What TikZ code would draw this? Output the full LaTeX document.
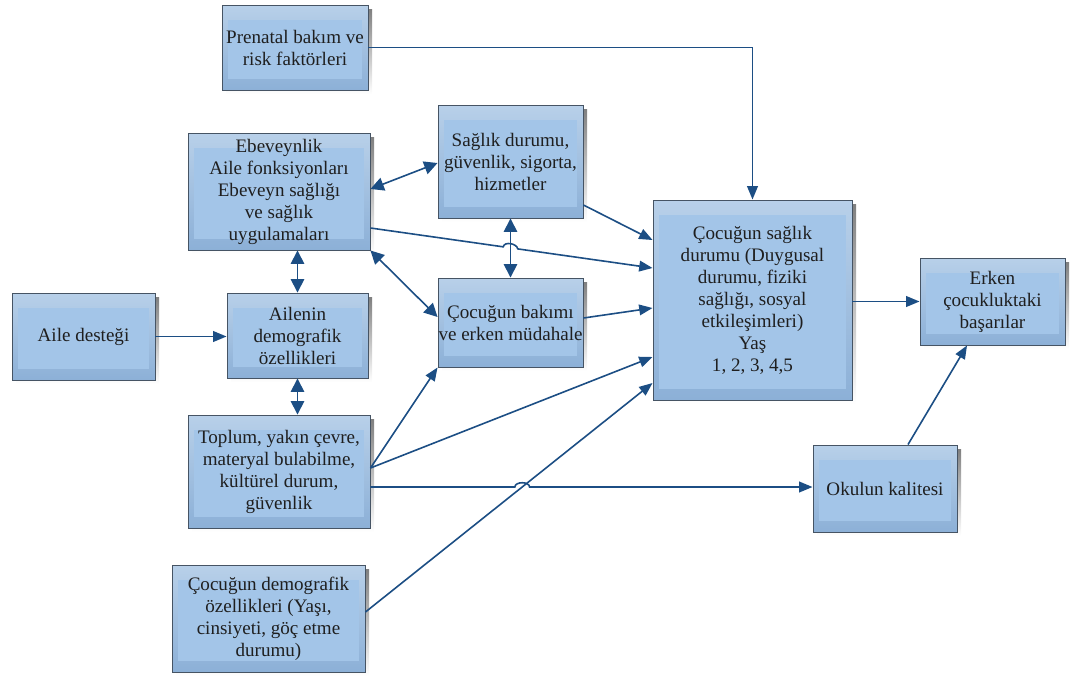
\documentclass[tikz,border=0pt]{standalone}
\usepackage{fontspec}
\setmainfont{Liberation Serif}
\usetikzlibrary{arrows.meta,calc}

\definecolor{lnk}{RGB}{28,78,132}
\definecolor{boxedge}{RGB}{70,84,100}
\definecolor{boxtop}{RGB}{184,208,233}
\definecolor{boxbot}{RGB}{140,176,215}
\definecolor{boxin}{RGB}{163,197,232}
\definecolor{shade}{RGB}{55,58,64}

\tikzset{
  bx/.style={draw=boxedge, line width=0.7pt, top color=boxtop, bottom color=boxbot,
    inner sep=0pt, align=center, text=black!88,
    font=\fontsize{14.3pt}{16.5pt}\selectfont,
    path picture={\fill[boxin]
      ([xshift=4.5pt,yshift=-11pt]path picture bounding box.north west) rectangle
      ([xshift=-4.5pt,yshift=8pt]path picture bounding box.south east);}},
  link/.style={draw=lnk, line width=1.2pt, -{Triangle[length=10pt,width=8pt]}},
  twoway/.style={draw=lnk, line width=1.2pt,
    {Triangle[length=10pt,width=10pt]}-{Triangle[length=10pt,width=10pt]}},
}

% box: name, x1, y1, x2, y2, options, text
\newcommand\panelbox[7]{%
  \fill[shade] ({#2+4},{#3+4}) rectangle ({#4+4},{#5+4});
  \node[bx,#6, minimum width={(#4-#2)*0.75pt}, minimum height={(#5-#3)*0.75pt}]
    (#1) at ({(#2+#4)/2},{(#3+#5)/2}) {#7};
}

\begin{document}
\begin{tikzpicture}[x=0.75pt,y=-0.75pt]
\useasboundingbox (0,0) rectangle (1076,686);

% boxes
\panelbox{pren}{222}{5}{368}{90}{}{Prenatal bakım ve\\risk faktörleri}
\panelbox{ebev}{188}{133}{370}{250}{}{Ebeveynlik\\Aile fonksiyonları\\Ebeveyn sağlığı\\ve sağlık\\uygulamaları}
\panelbox{saglik}{438}{105}{583}{218}{}{Sağlık durumu,\\güvenlik, sigorta,\\hizmetler}
\panelbox{bakim}{438}{278}{583}{367}{}{Çocuğun bakımı\\ve erken müdahale}
\panelbox{big}{653}{200}{852}{400}{}{Çocuğun sağlık\\durumu (Duygusal\\durumu, fiziki\\sağlığı, sosyal\\etkileşimleri)\\Yaş\\1, 2, 3, 4,5}
\panelbox{erken}{920}{258}{1065}{345}{}{Erken\\çocukluktaki\\başarılar}
\panelbox{okul}{813}{445}{957}{532}{}{Okulun kalitesi}
\panelbox{aile}{12}{293}{155}{380}{}{Aile desteği}
\panelbox{ailenin}{227}{293}{368}{378}{}{Ailenin\\demografik\\özellikleri}
\panelbox{toplum}{188}{415}{370}{528}{}{Toplum, yakın çevre,\\materyal bulabilme,\\kültürel durum,\\güvenlik}
\panelbox{demog}{172}{565}{365}{672}{}{Çocuğun demografik\\özellikleri (Yaşı,\\cinsiyeti, göç etme\\durumu)}

% connector end points
\coordinate (e1) at (ebev.east |- 0,228);
\coordinate (b1) at (big.west |- 0,268);
\coordinate (t0) at (toplum.east |- 0,468);
\coordinate (t1) at (toplum.east |- 0,487);
\coordinate (o1) at (okul.west |- 0,487);
\coordinate (d0) at (demog.east |- 0,612);
\coordinate (b5) at (big.west |- 0,383);
\coordinate (hopA) at (intersection of e1--b1 and saglik.south--bakim.north);
\coordinate (hopB) at (intersection of t1--o1 and d0--b5);

% connectors
\draw[link] (pren.east) -| (big.north);
\draw[twoway] (ebev.east |- 0,189) -- (saglik.west |- 0,163);
\draw[twoway] (ebev.south east) -- (bakim.west |- 0,317);
\draw[twoway] (ebev.south -| ailenin.north) -- (ailenin.north);
\draw[twoway] (ailenin.south) -- (toplum.north -| ailenin.south);
\draw[twoway] (saglik.south) -- (bakim.north);
\draw[link] (aile.east) -- (aile.east -| ailenin.west);

\draw[link] (e1) -- ($(hopA)!5.5pt!(e1)$) to[out=80,in=100] ($(hopA)!5.5pt!(b1)$) -- (b1);
\draw[link] (saglik.east |- 0,205) -- (big.west |- 0,240);
\draw[link] (bakim.east |- 0,318) -- (big.west |- 0,308);
\draw[link] (t0) -- (bakim.south west);
\draw[link] (t0) -- (big.west |- 0,357);
\draw[link] (t1) -- ($(hopB)!5.5pt!(t1)$) to[out=90,in=90] ($(hopB)!5.5pt!(o1)$) -- (o1);
\draw[link] (d0) -- (b5);

\draw[link] (big.east |- erken.west) -- (erken.west);
\draw[link] (okul.north -| 908,0) -- (erken.south -| 967,0);
\end{tikzpicture}
\end{document}
